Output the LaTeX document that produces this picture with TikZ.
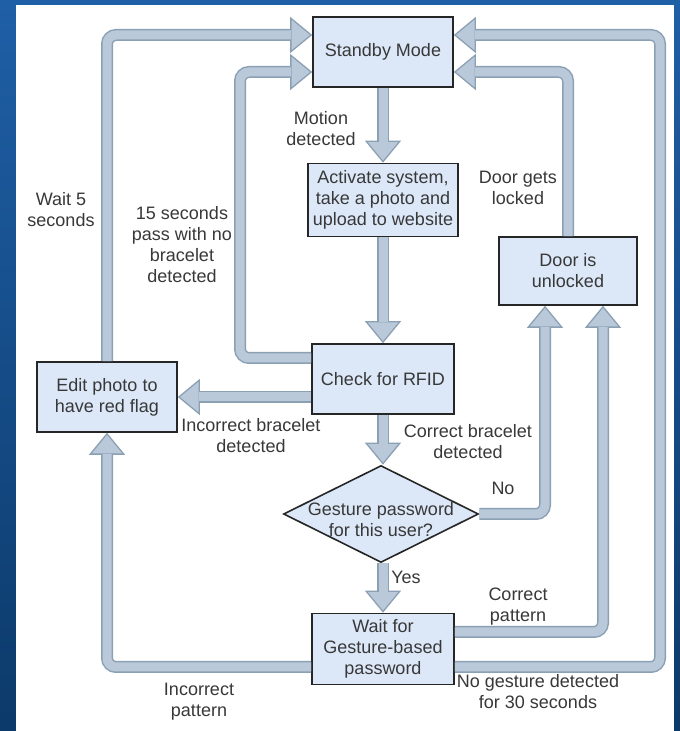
\documentclass[tikz,border=0pt]{standalone}
\usepackage{fontspec}
\setmainfont{Liberation Sans}
\usetikzlibrary{arrows.meta,shapes.geometric}
\definecolor{frametop}{HTML}{1F5FA6}
\definecolor{framebot}{HTML}{0C3A6A}
\definecolor{boxfill}{HTML}{DCE8F8}
\definecolor{arrfill}{HTML}{B9C9DA}
\definecolor{arredge}{HTML}{8CA0B4}
\definecolor{txt}{HTML}{383838}
\begin{document}
\begin{tikzpicture}[x=1pt,y=1pt,
    every node/.style={text=txt,font=\fontsize{18}{21}\selectfont,align=center},
    box/.style={draw=black!85,line width=1.6pt,fill=boxfill,inner sep=0pt},
    decision/.style={diamond,draw=black!85,line width=1.6pt,fill=boxfill,inner sep=0pt,
        minimum width=195pt,minimum height=97pt},
    fat/.style={draw=arredge,line width=12pt,rounded corners=9pt,
        -{Triangle[length=22pt,width=36pt,fill=arrfill,line width=1.3pt]},
        postaction={draw=arrfill,line width=9pt,arrows=-,shorten >=21pt}}]
    \useasboundingbox (0,0) rectangle (680,731);
    \fill[top color=frametop,bottom color=framebot] (0,0) rectangle (680,731);
    \fill[white] (16,0) rectangle (674,726);

    \node[box,minimum width=140pt,minimum height=70pt] (standby) at (383,679) {Standby Mode};
    \node[box,minimum width=150pt,minimum height=73pt] (activate) at (383,531) {Activate system,\\take a photo and\\upload to website};
    \node[box,minimum width=138pt,minimum height=68pt] (door) at (568,460) {Door is\\unlocked};
    \node[box,minimum width=142pt,minimum height=70pt] (rfid) at (383,352) {Check for RFID};
    \node[box,minimum width=140pt,minimum height=70pt] (edit) at (107,334) {Edit photo to\\have red flag};
    \node[decision,label={[yshift=-6pt]center:Gesture password\\for this user?}] (gesture) at (381,217) {};
    \node[box,minimum width=142pt,minimum height=71pt] (wait) at (383,82) {Wait for\\Gesture-based\\password};

    \draw[fat] (standby) -- (activate);
    \draw[fat] (activate) -- (rfid);
    \draw[fat] (rfid) -- (rfid |- gesture.north);
    \draw[fat] (gesture.south -| wait) -- (wait);
    \draw[fat] (rfid.west |- edit.east) -- (edit.east);
    \draw[fat] (rfid.west |- 0,373) -| (240,659) -- (standby.west |- 0,659);
    \draw[fat] (edit.north) |- (standby.west |- 0,696);
    \draw[fat] (door.north) |- (standby.east |- 0,659);
    \draw[fat] (wait.east |- 0,99) -| (door.south -| 603,0);
    \draw[fat] (gesture.east) -| (door.south -| 545,0);
    \draw[fat] (wait.west |- 0,64) -| (edit.south);
    \draw[fat] (wait.east |- 0,64) -| (660,696) -- (standby.east |- 0,696);

    \node (motion) at (321,602) {Motion\\detected};
    \node (locked) at (518,543) {Door gets\\locked};
    \node (wait5) at (61,521) {Wait 5\\seconds};
    \node (timeout) at (182,486) {15 seconds\\pass with no\\bracelet\\detected};
    \node (wrongbr) at (251,295) {Incorrect bracelet\\detected};
    \node (rightbr) at (468,289) {Correct bracelet\\detected};
    \node (no) at (503,243) {No};
    \node (yes) at (406,154) {Yes};
    \node (rightpat) at (518,124) {Correct\\pattern};
    \node (wrongpat) at (199,29) {Incorrect\\pattern};
    \node (nogest) at (538,39) {No gesture detected\\for 30 seconds};
\end{tikzpicture}
\end{document}
